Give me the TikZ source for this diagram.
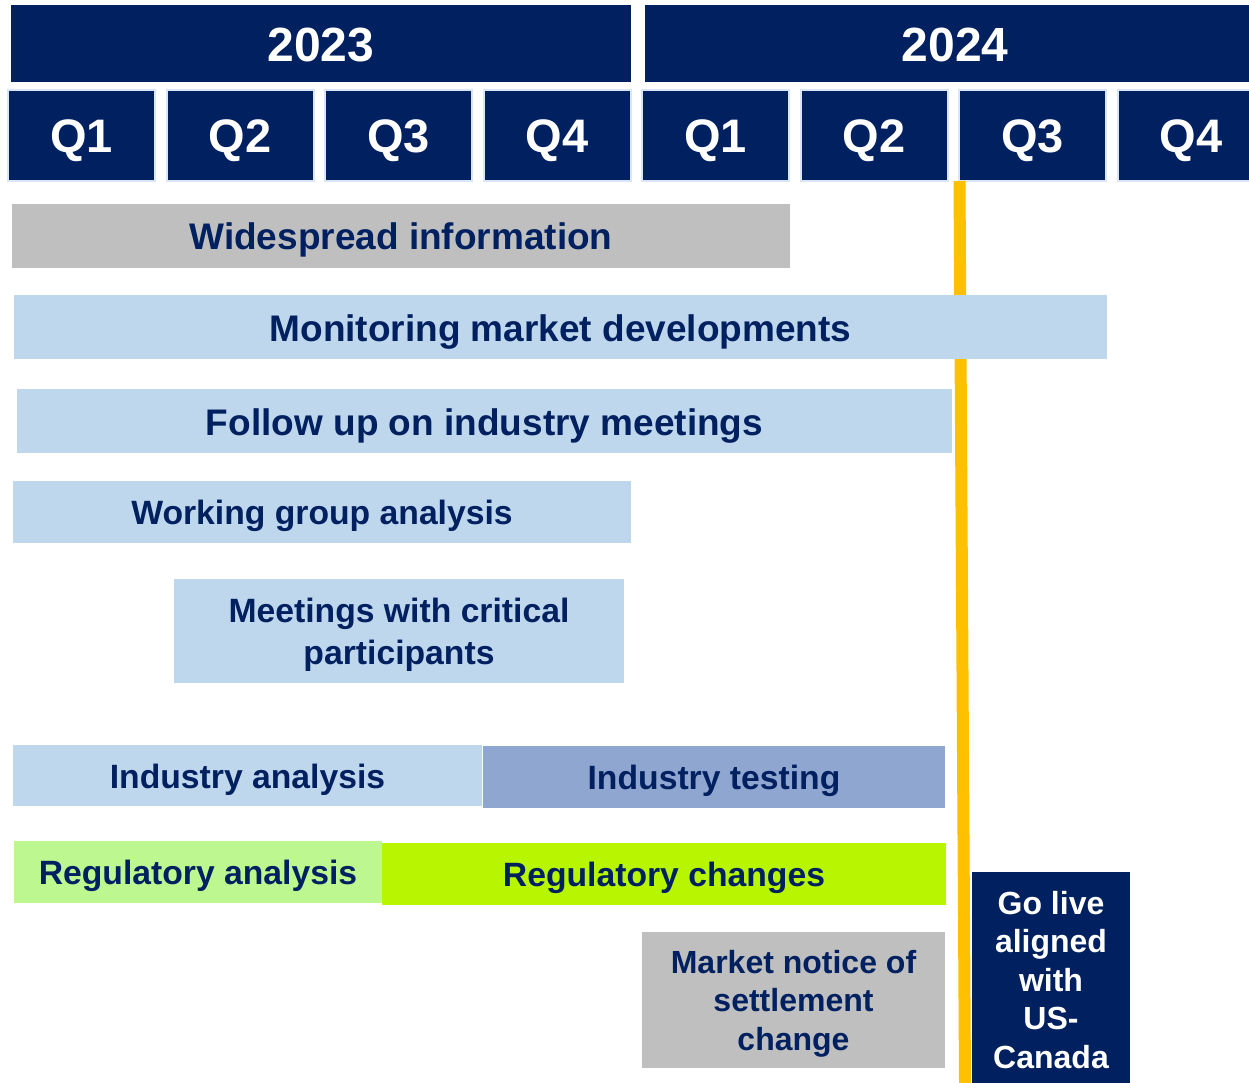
\documentclass[tikz,border=0pt]{standalone}
\usepackage{fontspec}
\setmainfont{Liberation Sans}
\usepackage{tikz}
\usetikzlibrary{positioning}
\definecolor{navy}{HTML}{002060}
\definecolor{qedge}{HTML}{DAE6F6}
\definecolor{lightbar}{HTML}{BFD7ED}
\definecolor{greybar}{HTML}{BFBFBF}
\definecolor{testbar}{HTML}{8FA6D1}
\definecolor{reganalysis}{HTML}{BCF78F}
\definecolor{regchange}{HTML}{B8F500}
\definecolor{golive}{HTML}{FFC000}
\tikzset{
  yearbox/.style = {fill=navy, text=white, inner sep=0pt, outer sep=0pt,
    text height=35.5pt, text depth=0pt,
    minimum width=620pt, minimum height=77pt, font=\fontsize{48}{58}\selectfont\bfseries},
  qbox/.style = {fill=navy, draw=qedge, line width=2pt, text=white, inner sep=0pt,
    text height=35pt, text depth=0pt,
    minimum width=147pt, minimum height=91pt, font=\fontsize{47}{56}\selectfont\bfseries},
  multibar/.style = {anchor=north west, inner sep=0pt, outer sep=0pt, text=navy, align=center,
    text depth=0pt, font=\fontsize{33.7}{42}\selectfont\bfseries},
  bar/.style = {multibar, text height=25.5pt},
  bigbar/.style = {multibar, text height=28pt, font=\fontsize{37}{45}\selectfont\bfseries},
  smallbar/.style = {multibar, font=\fontsize{32}{38.5}\selectfont\bfseries},
}
\begin{document}
\begin{tikzpicture}[x=1pt,y=-1pt]
  \useasboundingbox (0,0) rectangle (1249,1083);

  \node[yearbox] (y23) at (321,43.5) {2023};
  \node[yearbox] (y24) at (955,43.5) {2024};

  \node[qbox] (q1a) at (81.5,135.5) {Q1};
  \node[qbox] (q2a) at (240,135.5) {Q2};
  \node[qbox] (q3a) at (398.5,135.5) {Q3};
  \node[qbox] (q4a) at (557,135.5) {Q4};
  \node[qbox] (q1b) at (715.5,135.5) {Q1};
  \node[qbox] (q2b) at (874,135.5) {Q2};
  \node[qbox] (q3b) at (1032.5,135.5) {Q3};
  \node[qbox] (q4b) at (1191,135.5) {Q4};

  % go-live marker, behind the bars
  \coordinate (marktop) at (959.5,181);
  \coordinate (markbot) at (965,1083);
  \draw[golive, line width=12pt] (marktop) -- (markbot);

  \node[bigbar, fill=greybar, minimum width=778pt, minimum height=64pt] (info) at (12,204) {Widespread information};
  \node[bigbar, fill=lightbar, minimum width=1093pt, minimum height=64pt] (monitor) at (14,295) {Monitoring market developments};
  \node[bigbar, fill=lightbar, minimum width=935pt, minimum height=64pt] (followup) at (17,389) {Follow up on industry meetings};
  \node[bar, fill=lightbar, minimum width=618pt, minimum height=62pt] (wgroup) at (13,481) {Working group analysis};
  \node[multibar, fill=lightbar, minimum width=450pt, minimum height=104pt] (meetings) at (174,579) {Meetings with critical\\participants};
  \node[bar, fill=lightbar, minimum width=469pt, minimum height=61pt] (indan) at (13,745) {Industry analysis};
  \node[bar, fill=testbar, minimum width=462pt, minimum height=62pt] (indtest) at (483,746) {Industry testing};
  \node[bar, fill=reganalysis, minimum width=368pt, minimum height=62pt] (regan) at (14,841) {Regulatory analysis};
  \node[bar, fill=regchange, minimum width=564pt, minimum height=62pt] (regch) at (382,843) {Regulatory changes};
  \node[smallbar, fill=greybar, minimum width=303pt, minimum height=136pt] (notice) at (642,932) {Market notice of\\settlement\\change};
  \node[smallbar, fill=navy, text=white, text depth=6pt, minimum width=158pt, minimum height=221pt] (live) at (972,872) {Go live\\aligned\\with\\US-\\Canada};
\end{tikzpicture}
\end{document}
